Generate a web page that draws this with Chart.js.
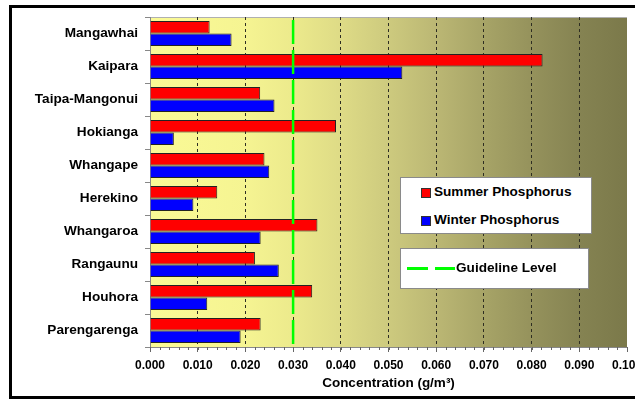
<!DOCTYPE html>
<html>
<head>
<meta charset="utf-8">
<script src="https://cdn.jsdelivr.net/npm/chart.js@4/dist/chart.umd.min.js"></script>
<style>
  html, body { margin: 0; padding: 0; background: #fff; overflow: hidden; }
  body { width: 635px; height: 399px; position: relative; font-family: 'Liberation Sans', Arial, sans-serif; }
  .frame { position: absolute; left: 9px; top: 5px; width: 700px; height: 394px; box-sizing: border-box; border: 3px solid #000; }
  .wrap { position: absolute; left: 0; top: 0; width: 635px; height: 399px; }
  .lbox { position: absolute; background: #fff; border: 1px solid #8a8a8a; box-sizing: border-box; }
  .item { position: absolute; font-weight: bold; font-size: 13.6px; color: #000; white-space: nowrap; line-height: 14px; }
  .sw { position: absolute; width: 8px; height: 8px; border: 1px solid #333; }
  .dash { position: absolute; height: 3px; background: #00ff00; }
</style>
</head>
<body>
<div class="frame"></div>
<div class="wrap"><canvas id="chart" width="635" height="399"></canvas></div>

<div class="lbox" style="left:400px;top:177px;width:192px;height:57px;">
  <span class="sw" style="left:20px;top:10px;background:#ff0000;"></span>
  <span class="item" id="lgSummer" style="left:33px;top:7px;"></span>
  <span class="sw" style="left:20px;top:38px;background:#0000ff;"></span>
  <span class="item" id="lgWinter" style="left:33px;top:35px;"></span>
</div>
<div class="lbox" style="left:400px;top:248px;width:189px;height:41px;">
  <span class="dash" style="left:6px;top:18px;width:21px;"></span>
  <span class="dash" style="left:34px;top:18px;width:20px;"></span>
  <span class="item" id="lgGuide" style="left:55px;top:12px;"></span>
</div>

<script>
  // estuaries, top to bottom
  const sites = ['Mangawhai', 'Kaipara', 'Taipa-Mangonui', 'Hokianga', 'Whangape',
                 'Herekino', 'Whangaroa', 'Rangaunu', 'Houhora', 'Parengarenga'];
  const summerP = [0.0125, 0.0823, 0.0231, 0.0390, 0.0240, 0.0141, 0.0351, 0.0220, 0.0340, 0.0232];
  const winterP = [0.0171, 0.0529, 0.0261, 0.0050, 0.0250, 0.0091, 0.0232, 0.0270, 0.0120, 0.0190];
  const guideline = 0.030;
  const xMin = 0, xMax = 0.1, xStep = 0.01, minorStep = 0.002;
  const seriesNames = ['Summer Phosphorus', 'Winter Phosphorus', 'Guideline Level'];
  const axisTitle = 'Concentration (g/m\u00B3)';

  document.getElementById('lgSummer').textContent = seriesNames[0];
  document.getElementById('lgWinter').textContent = seriesNames[1];
  document.getElementById('lgGuide').textContent = seriesNames[2];

  const FONT = "'Liberation Sans', Arial, sans-serif";

  // gradient plot background (pale yellow -> olive)
  const bgStops = ['#fafa96', '#f8f794', '#f5f492', '#ecea8c', '#dedb86', '#cdca7e',
                   '#bbb774', '#a7a467', '#95925c', '#858352', '#7b794a'];

  const bgPlugin = {
    id: 'bgPlugin',
    beforeDraw(chart) {
      const { ctx, chartArea: a } = chart;
      const g = ctx.createLinearGradient(a.left, 0, a.right, 0);
      bgStops.forEach((c, i) => g.addColorStop(i / (bgStops.length - 1), c));
      ctx.save();
      ctx.fillStyle = g;
      ctx.fillRect(a.left, a.top, a.right - a.left, a.bottom - a.top);
      ctx.strokeStyle = '#b0b0b0';
      ctx.lineWidth = 1;
      ctx.beginPath();
      ctx.moveTo(a.left, a.top + 0.5);
      ctx.lineTo(a.right, a.top + 0.5);
      ctx.stroke();
      ctx.restore();
    }
  };

  // guideline + minor ticks on the x axis
  const guidePlugin = {
    id: 'guidePlugin',
    afterDatasetsDraw(chart) {
      const { ctx, chartArea: a, scales } = chart;
      const x = scales.x.getPixelForValue(guideline);
      ctx.save();
      ctx.strokeStyle = '#00ff00';
      ctx.lineWidth = 2.5;
      ctx.setLineDash([24, 6]);
      ctx.beginPath();
      ctx.moveTo(x, a.top + 3);
      ctx.lineTo(x, a.bottom);
      ctx.stroke();
      ctx.restore();
    },
    afterDraw(chart) {
      const { ctx, chartArea: a, scales } = chart;
      ctx.save();
      ctx.strokeStyle = '#666';
      ctx.lineWidth = 1;
      ctx.beginPath();
      for (let v = xMin; v <= xMax + 1e-9; v += minorStep) {
        const x = Math.round(scales.x.getPixelForValue(v)) + 0.5;
        ctx.moveTo(x, a.bottom);
        ctx.lineTo(x, a.bottom + 3);
      }
      ctx.stroke();
      ctx.restore();
    }
  };

  new Chart(document.getElementById('chart'), {
    type: 'bar',
    data: {
      labels: sites,
      datasets: [
        { label: seriesNames[0], data: summerP, backgroundColor: '#ff0000', borderColor: '#222', borderWidth: 1,
          categoryPercentage: 0.76, barPercentage: 1.0 },
        { label: seriesNames[1], data: winterP, backgroundColor: '#0000ff', borderColor: '#222', borderWidth: 1,
          categoryPercentage: 0.76, barPercentage: 1.0 }
      ]
    },
    options: {
      indexAxis: 'y',
      responsive: false,
      animation: false,
      layout: { padding: { left: 0, right: 8, top: 17, bottom: 0 } },
      plugins: { legend: { display: false }, tooltip: { enabled: false } },
      scales: {
        x: {
          min: xMin,
          max: xMax,
          afterBuildTicks(scale) {
            const t = [];
            for (let i = 0; i <= Math.round((xMax - xMin) / xStep); i++) t.push({ value: +(xMin + i * xStep).toFixed(3) });
            scale.ticks = t;
          },
          afterFit(scale) {
            scale.height = 52;
            scale.paddingLeft = 0;
            scale.paddingRight = 0;
          },
          ticks: {
            color: '#000',
            padding: 6,
            maxRotation: 0,
            autoSkip: false,
            font: { family: FONT, size: 12, weight: 'bold' },
            callback: v => Number(v).toFixed(3)
          },
          grid: {
            color: c => (c.tick && (c.tick.value === xMin || c.tick.value === xMax)) ? 'rgba(0,0,0,0)' : '#2e2e22',
            lineWidth: 1,
            tickLength: 5,
            tickColor: '#666',
            tickBorderDash: []
          },
          border: { display: true, color: '#888', width: 1, dash: [3, 3] },
          title: {
            display: true,
            text: axisTitle,
            color: '#000',
            font: { family: FONT, size: 13.5, weight: 'bold' },
            padding: { top: 2, bottom: 8 }
          }
        },
        y: {
          afterFit(scale) {
            scale.width = 150;
            scale.paddingTop = 0;
            scale.paddingBottom = 0;
          },
          ticks: {
            color: '#000',
            padding: 7,
            autoSkip: false,
            font: { family: FONT, size: 13.6, weight: 'bold' }
          },
          grid: {
            drawOnChartArea: false,
            offset: true,
            tickLength: 5,
            color: '#888'
          },
          border: { display: true, color: '#888', width: 1 }
        }
      }
    },
    plugins: [bgPlugin, guidePlugin]
  });
</script>
</body>
</html>
